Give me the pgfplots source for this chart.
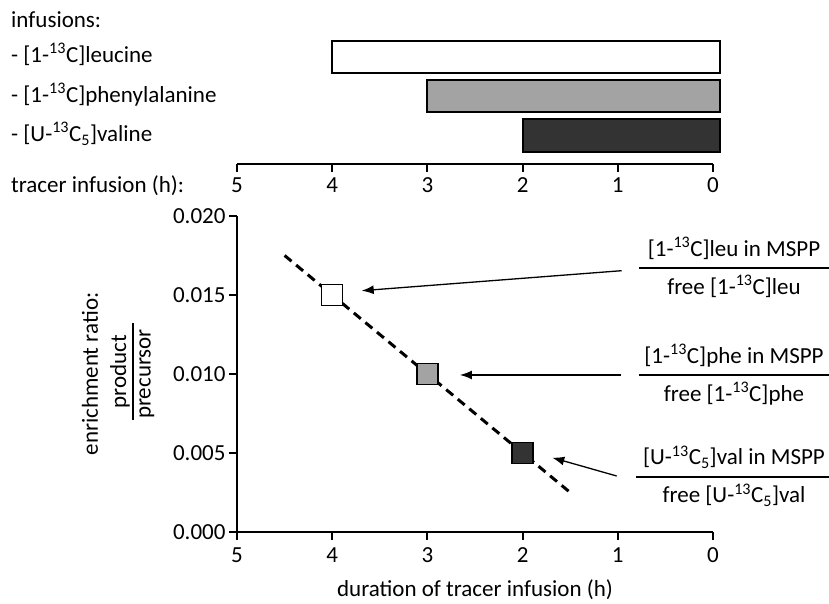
\documentclass[border=0pt]{standalone}
\usepackage{fontspec}
\setmainfont{Carlito}
\usepackage{pgfplots}
\pgfplotsset{compat=1.18}
\usetikzlibrary{arrows.meta}
\newcommand\F{\fontsize{23bp}{27bp}\selectfont}
\definecolor{midgray}{RGB}{163,163,163}
\definecolor{darkgray}{RGB}{51,51,51}
\begin{document}
\begin{tikzpicture}[x=1bp,y=1bp,font=\F]
\useasboundingbox (0,0) rectangle (829,604);
% left texts
\node[anchor=base west,inner sep=0] at (11,576) {infusions:};
\node[anchor=base west,inner sep=0] at (11,541) {- [1-\textsuperscript{13}C]leucine};
\node[anchor=base west,inner sep=0] at (11,501) {- [1-\textsuperscript{13}C]phenylalanine};
\node[anchor=base west,inner sep=0] at (11,462) {- [U-\textsuperscript{13}C\textsubscript{5}]valine};
\node[anchor=base west,inner sep=0] at (11,411) {tracer infusion (h):};
% top axis: infusion bars
\begin{axis}[at={(237bp,440bp)}, anchor=south west, scale only axis,
  width=476bp, height=130bp, xmin=0, xmax=5, ymin=0, ymax=130,
  x dir=reverse, axis x line=bottom, axis y line=none,
  axis line style={-, line width=2bp, black},
  xtick={0,1,2,3,4,5}, xticklabels={0,1,2,3,4,5}, ytick=\empty,
  tick align=outside, major tick length=8bp,
  tick style={line width=2bp, black},
  xticklabel shift=2bp,
  xticklabel style={font=\F}, clip=false]
\addplot[fill=white, draw=black, line width=2bp] coordinates {(4,91.3) (-0.07,91.3) (-0.07,123.3) (4,123.3)} -- cycle;
\addplot[fill=midgray, draw=black, line width=2bp] coordinates {(3,52) (-0.07,52) (-0.07,84) (3,84)} -- cycle;
\addplot[fill=darkgray, draw=black, line width=2bp] coordinates {(2,12) (-0.07,12) (-0.07,45) (2,45)} -- cycle;
\end{axis}
% bottom axis: enrichment ratio
\begin{axis}[at={(237bp,72bp)}, anchor=south west, scale only axis,
  width=476bp, height=316bp, xmin=0, xmax=5, ymin=0, ymax=0.02,
  x dir=reverse, axis lines=left,
  axis line style={-, line width=2bp, black},
  xtick={0,1,2,3,4,5}, xticklabels={0,1,2,3,4,5},
  ytick={0,0.005,0.01,0.015,0.02},
  yticklabels={0.000,0.005,0.010,0.015,0.020},
  scaled y ticks=false,
  tick align=outside, major tick length=8bp,
  tick style={line width=2bp, black},
  xticklabel shift=4bp,
  xticklabel style={font=\F}, yticklabel style={font=\F},
  clip=false]
\addplot[black, line width=3bp, dash pattern=on 9bp off 6bp] coordinates {(4.5,0.0175) (1.5,0.0025)};
\addplot[only marks, mark=square*, mark size=10.5bp, mark options={fill=white, draw=black, line width=1.5bp}] coordinates {(4,0.015)};
\addplot[only marks, mark=square*, mark size=10.5bp, mark options={fill=midgray, draw=black, line width=1.5bp}] coordinates {(3,0.010)};
\addplot[only marks, mark=square*, mark size=10.5bp, mark options={fill=darkgray, draw=black, line width=1.5bp}] coordinates {(2,0.005)};
\draw[-{Latex[length=12bp,width=9bp]}, line width=1.3bp] (axis cs:0.959,0.016538) -- (axis cs:3.690,0.015272);
\draw[-{Latex[length=12bp,width=9bp]}, line width=1.3bp] (axis cs:0.970,0.009937) -- (axis cs:2.658,0.009937);
\draw[-{Latex[length=12bp,width=9bp]}, line width=1.3bp] (axis cs:1.012,0.003544) -- (axis cs:1.688,0.004703);
\end{axis}
% y label
\node[rotate=90] at (90,230) {enrichment ratio:};
\node[rotate=90] at (120,232.5) {product};
\node[rotate=90] at (147,230) {precursor};
\draw[line width=1.5bp] (133,184) -- (133,281);
% x label
\node[anchor=base,inner sep=0] at (475,7) {duration of tracer infusion (h)};
% fractions
\node[anchor=base,inner sep=0] at (734,347) {[1-\textsuperscript{13}C]leu in MSPP};
\draw[line width=1.5bp] (639,336) -- (829,336);
\node[anchor=base,inner sep=0] at (734,309) {free [1-\textsuperscript{13}C]leu};
\node[anchor=base,inner sep=0] at (734,240) {[1-\textsuperscript{13}C]phe in MSPP};
\draw[line width=1.5bp] (639,229) -- (829,229);
\node[anchor=base,inner sep=0] at (734,202) {free [1-\textsuperscript{13}C]phe};
\node[anchor=base,inner sep=0] at (734,139) {[U-\textsuperscript{13}C\textsubscript{5}]val in MSPP};
\draw[line width=1.5bp] (636,127) -- (829,127);
\node[anchor=base,inner sep=0] at (734,101) {free [U-\textsuperscript{13}C\textsubscript{5}]val};
\end{tikzpicture}
\end{document}
